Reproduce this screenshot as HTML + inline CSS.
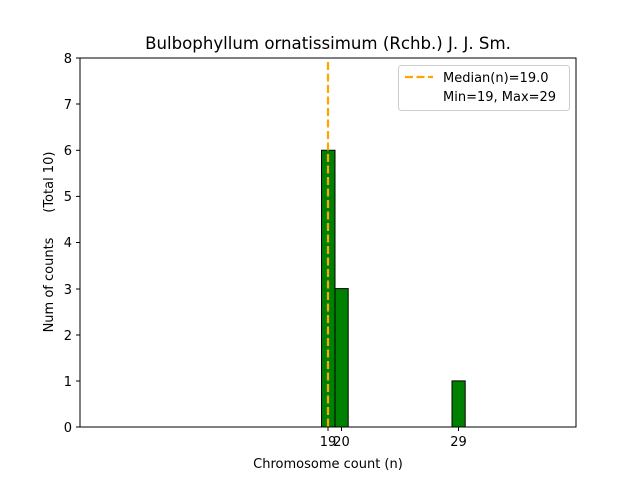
<!DOCTYPE html>
<html><head><style>body{margin:0;background:#fff}svg{display:block}</style></head><body>
<svg width="640" height="480" xmlns="http://www.w3.org/2000/svg" font-family="'DejaVu Sans', 'Liberation Sans', sans-serif">
<rect width="640" height="480" fill="#fff"/>
<text x="328" y="49" font-size="16.6" text-anchor="middle">Bulbophyllum ornatissimum (Rchb.) J. J. Sm.</text>
<g fill="#008000" stroke="#000" stroke-width="1">
<rect x="321.5" y="150.25" width="13.5" height="276.75"/>
<rect x="335" y="288.6" width="13.2" height="138.4"/>
<rect x="452" y="380.9" width="13.2" height="46.1"/>
</g>
<line x1="328" y1="62" x2="328" y2="427" stroke="#ffa500" stroke-width="2.2" stroke-dasharray="8,3.5"/>
<rect x="80" y="58" width="496" height="369" fill="none" stroke="#000" stroke-width="1"/>
<g font-size="13" text-anchor="end">
<text x="72" y="432">0</text><text x="72" y="386">1</text><text x="72" y="340">2</text><text x="72" y="294">3</text><text x="72" y="247">4</text><text x="72" y="201">5</text><text x="72" y="155">6</text><text x="72" y="109">7</text><text x="72" y="63">8</text>
</g>
<g stroke="#000">
<line x1="76" y1="427" x2="80" y2="427"/><line x1="76" y1="381" x2="80" y2="381"/><line x1="76" y1="335" x2="80" y2="335"/><line x1="76" y1="289" x2="80" y2="289"/><line x1="76" y1="242.5" x2="80" y2="242.5"/><line x1="76" y1="196.4" x2="80" y2="196.4"/><line x1="76" y1="150.3" x2="80" y2="150.3"/><line x1="76" y1="104" x2="80" y2="104"/><line x1="76" y1="58" x2="80" y2="58"/>
<line x1="328" y1="427" x2="328" y2="431"/><line x1="341.5" y1="427" x2="341.5" y2="431"/><line x1="458.5" y1="427" x2="458.5" y2="431"/>
</g>
<g font-size="13" text-anchor="middle">
<text x="328" y="446">19</text><text x="341.5" y="446">20</text><text x="458.5" y="446">29</text>
<text x="328" y="468">Chromosome count (n)</text>
</g>
<text transform="translate(53,242) rotate(-90)" font-size="13" text-anchor="middle" style="white-space:pre">Num of counts      (Total 10)</text>
<rect x="398.5" y="65.5" width="171" height="45" rx="3" fill="#fff" stroke="#ccc"/>
<line x1="405" y1="77" x2="433" y2="77" stroke="#ffa500" stroke-width="2.2" stroke-dasharray="8,3.5"/>
<text x="443" y="82" font-size="13">Median(n)=19.0</text>
<text x="443" y="101" font-size="13">Min=19, Max=29</text>
</svg>
</body></html>
